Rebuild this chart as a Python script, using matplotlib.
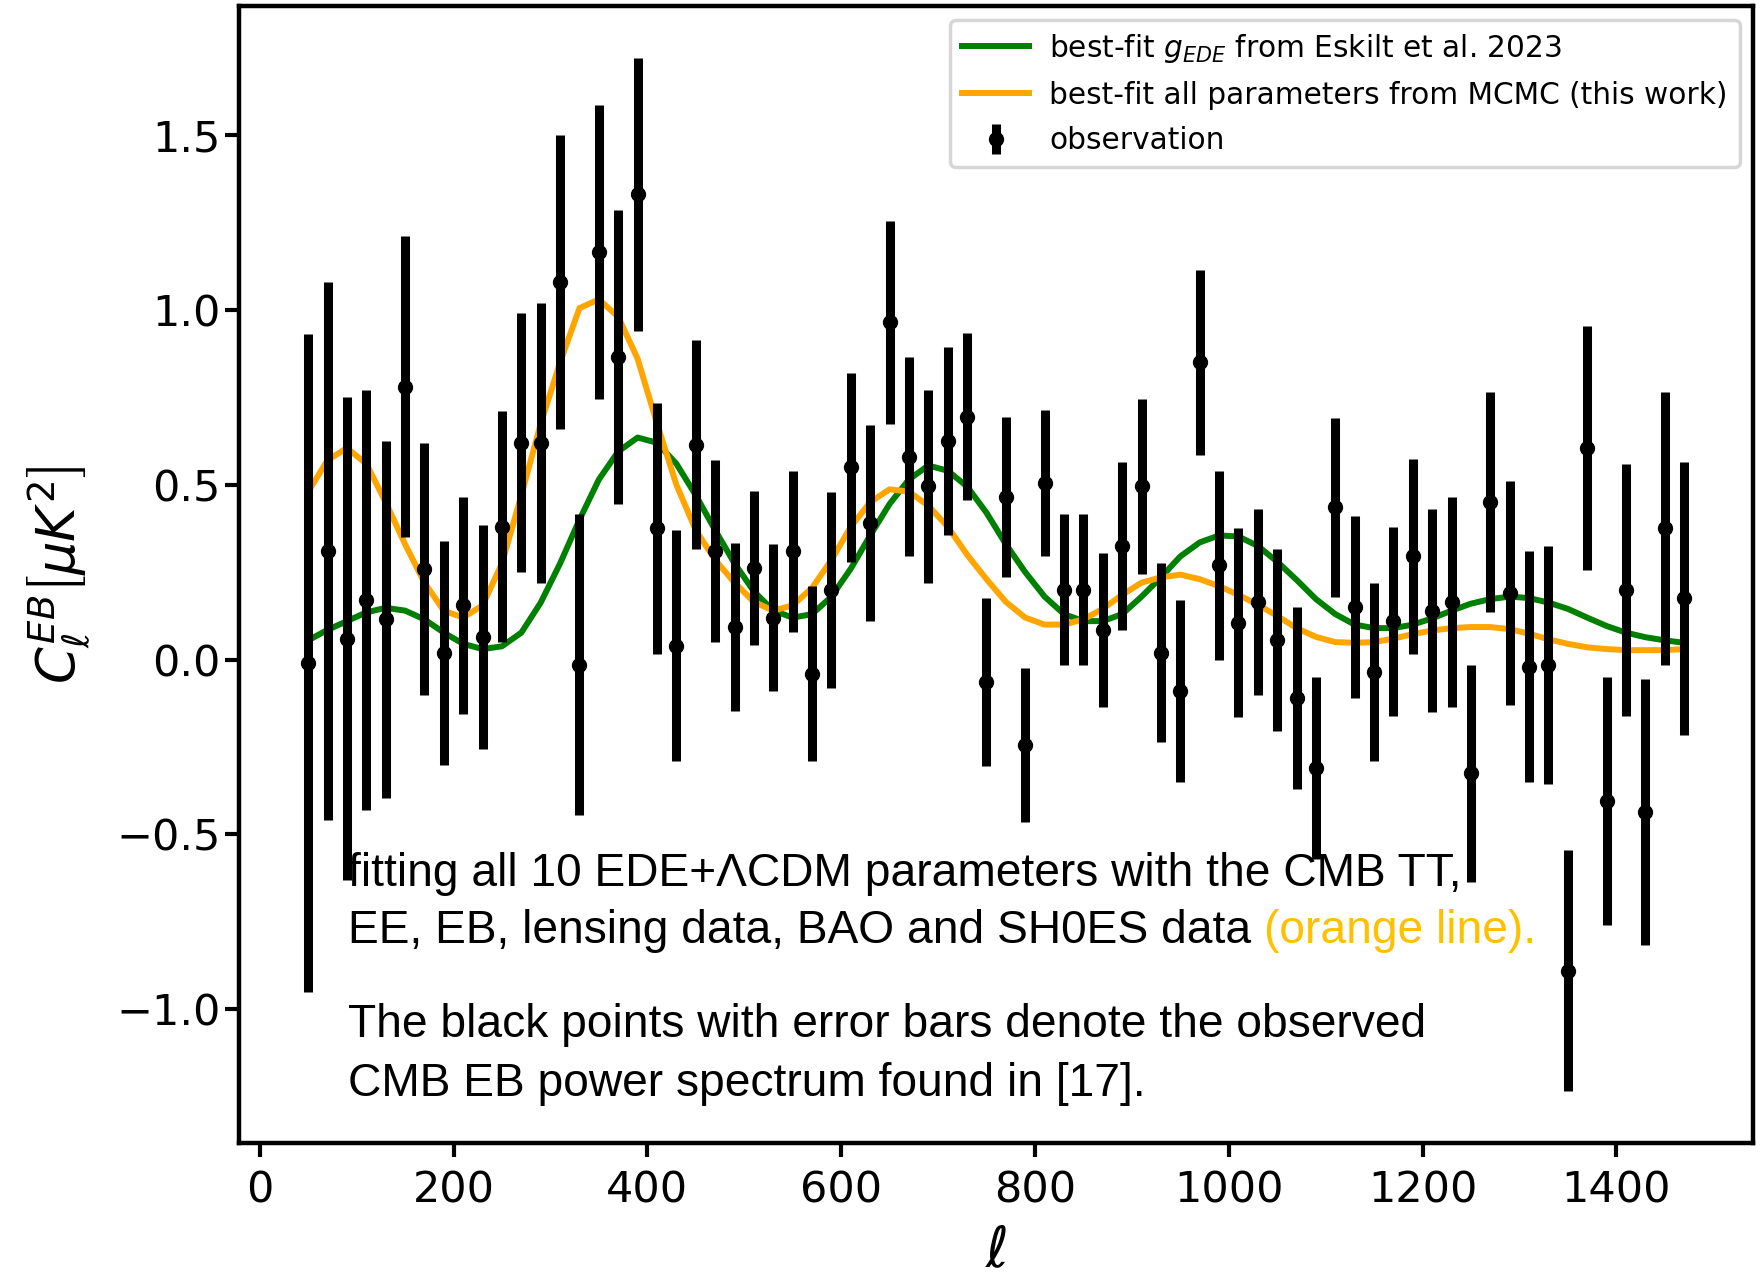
import matplotlib
matplotlib.use("Agg")
import matplotlib.pyplot as plt
import numpy as np

ell = list(range(50, 1471, 20))
cl_obs = [-0.01, 0.31, 0.06, 0.17, 0.115, 0.78, 0.26, 0.02, 0.155, 0.065,
          0.38, 0.62, 0.62, 1.08, -0.015, 1.165, 0.865, 1.33, 0.375, 0.04,
          0.615, 0.31, 0.093, 0.262, 0.12, 0.31, -0.04, 0.20, 0.55, 0.39,
          0.965, 0.58, 0.495, 0.625, 0.695, -0.065, 0.465, -0.245, 0.505, 0.20,
          0.20, 0.085, 0.325, 0.495, 0.02, -0.09, 0.85, 0.27, 0.105, 0.165,
          0.055, -0.11, -0.31, 0.435, 0.15, -0.035, 0.11, 0.295, 0.14, 0.165,
          -0.325, 0.45, 0.19, -0.02, -0.015, -0.89, 0.605, -0.405, 0.20, -0.435,
          0.375, 0.175]
cl_err = [0.94, 0.77, 0.69, 0.60, 0.51, 0.43, 0.36, 0.32, 0.31, 0.32,
          0.33, 0.37, 0.40, 0.42, 0.43, 0.42, 0.42, 0.39, 0.36, 0.33,
          0.30, 0.26, 0.24, 0.22, 0.21, 0.23, 0.25, 0.28, 0.27, 0.28,
          0.29, 0.285, 0.275, 0.27, 0.24, 0.24, 0.23, 0.22, 0.21, 0.215,
          0.215, 0.22, 0.24, 0.25, 0.255, 0.26, 0.265, 0.27, 0.27, 0.265,
          0.26, 0.26, 0.26, 0.255, 0.26, 0.255, 0.27, 0.28, 0.29, 0.30,
          0.31, 0.315, 0.32, 0.33, 0.34, 0.345, 0.35, 0.355, 0.36, 0.38,
          0.39, 0.39]
cl_mcmc = [0.48, 0.57, 0.605, 0.56, 0.45, 0.33, 0.22, 0.14, 0.12, 0.155,
           0.275, 0.47, 0.675, 0.85, 1.005, 1.03, 0.98, 0.86, 0.675, 0.50,
           0.37, 0.285, 0.22, 0.165, 0.14, 0.155, 0.205, 0.285, 0.38, 0.45,
           0.487, 0.48, 0.44, 0.38, 0.30, 0.23, 0.165, 0.12, 0.10, 0.10,
           0.115, 0.145, 0.185, 0.22, 0.235, 0.243, 0.23, 0.21, 0.185, 0.157,
           0.125, 0.09, 0.065, 0.05, 0.048, 0.05, 0.06, 0.073, 0.083, 0.09,
           0.093, 0.093, 0.087, 0.074, 0.058, 0.045, 0.035, 0.03, 0.027, 0.027,
           0.027, 0.03]
cl_eskilt = [0.055, 0.085, 0.11, 0.135, 0.148, 0.14, 0.115, 0.077, 0.045, 0.03,
             0.038, 0.077, 0.163, 0.275, 0.40, 0.515, 0.595, 0.635, 0.62, 0.56,
             0.47, 0.37, 0.275, 0.195, 0.14, 0.12, 0.13, 0.18, 0.26, 0.355,
             0.445, 0.515, 0.555, 0.54, 0.495, 0.42, 0.33, 0.25, 0.18, 0.13,
             0.11, 0.11, 0.13, 0.18, 0.235, 0.295, 0.335, 0.355, 0.352, 0.325,
             0.28, 0.228, 0.173, 0.13, 0.10, 0.09, 0.09, 0.10, 0.118, 0.14,
             0.16, 0.173, 0.18, 0.176, 0.163, 0.145, 0.12, 0.096, 0.077, 0.064,
             0.055, 0.048]

x_ticks = [0, 200, 400, 600, 800, 1000, 1200, 1400]
y_ticks = [-1.0, -0.5, 0.0, 0.5, 1.0, 1.5]

fig = plt.figure(figsize=(17.6, 12.83), dpi=100)
ax = fig.add_axes([0.136, 0.109, 0.860, 0.886])

ax.plot(ell, cl_eskilt, color="green", lw=4.3,
        label=r"best-fit $g_{EDE}$ from Eskilt et al. 2023")
ax.plot(ell, cl_mcmc, color="orange", lw=4.3,
        label="best-fit all parameters from MCMC (this work)")
ax.errorbar(ell, cl_obs, yerr=cl_err, fmt="o", color="black",
            elinewidth=6.5, markersize=10, label="observation")

ax.set_xticks(x_ticks)
ax.set_yticks(y_ticks)
ax.tick_params(axis="both", labelsize=31, width=3, length=10)
ax.tick_params(axis="x", pad=9)
for s in ax.spines.values():
    s.set_linewidth(3.2)

ax.set_xlabel(r"$\ell$", fontsize=40, labelpad=10)
ax.set_ylabel(r"$C_\ell^{EB}\left[\mu K^2\right]$", fontsize=38, labelpad=17)

leg = ax.legend(loc="upper right", fontsize=21.3, handlelength=2.27,
                handletextpad=0.68, labelspacing=0.55,
                borderaxespad=0.45, framealpha=0.8)
leg.get_frame().set_linewidth(2.5)

tfont = dict(family=["Liberation Sans", "DejaVu Sans"], fontsize=30)
x0 = 0.072
l1 = ax.text(x0, 0.2263, "fitting all 10 EDE+ΛCDM parameters with the CMB TT,",
             transform=ax.transAxes, va="baseline", ha="left", **tfont)
l2 = ax.text(x0, 0.1757, "EE, EB, lensing data, BAO and SH0ES data ",
             transform=ax.transAxes, va="baseline", ha="left", **tfont)
l3 = ax.text(x0, 0.0930, "The black points with error bars denote the observed",
             transform=ax.transAxes, va="baseline", ha="left", **tfont)
l4 = ax.text(x0, 0.0413, "CMB EB power spectrum found in [17].",
             transform=ax.transAxes, va="baseline", ha="left", **tfont)

fig.canvas.draw()
r = fig.canvas.get_renderer()
target_w = 1112.0
fs = 30 * target_w / l1.get_window_extent(r).width
for t in (l1, l2, l3, l4):
    t.set_fontsize(fs)
tf2 = dict(tfont)
tf2["fontsize"] = fs
ax.annotate("(orange line).", xy=(1, 0), xycoords=l2, va="bottom", ha="left",
            color="#FFC000", **tf2)

fig.savefig("out.png", dpi=100)
